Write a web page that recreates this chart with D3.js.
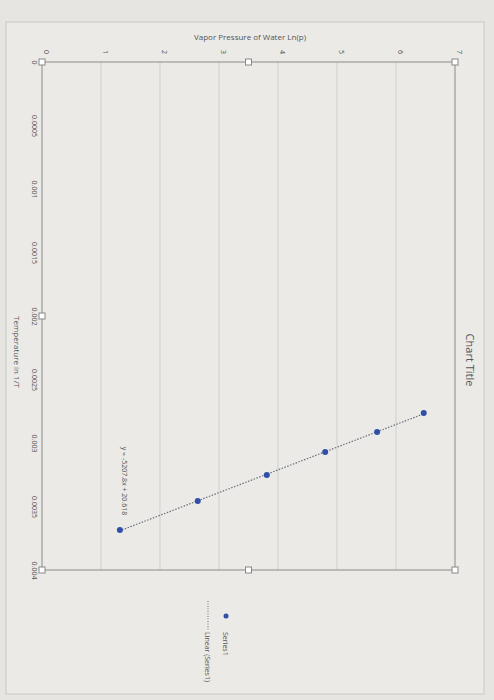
<!DOCTYPE html>
<html><head><meta charset="utf-8">
<script src="https://cdn.jsdelivr.net/npm/d3@7"></script>
<style>body{margin:0;background:#e6e5e1}text{font-family:'Open Sans',Calibri,sans-serif;fill:#555}</style>
</head><body><div id="chart"></div>
<script>
// photo of an Excel chart turned 90deg clockwise: ln(p) runs left->right, 1/T runs top->bottom
var invT = [0.003685, 0.003457, 0.003252, 0.003071, 0.002913, 0.002764];
var lnP = [1.32, 2.64, 3.81, 4.80, 5.68, 6.47];
var lnTicks = [0, 1, 2, 3, 4, 5, 6, 7];
var tTicks = [0, 0.0005, 0.001, 0.0015, 0.002, 0.0025, 0.003, 0.0035, 0.004];

var W = 494, H = 700;
var svg = d3.select('#chart').append('svg').attr('width', W).attr('height', H);
svg.append('rect').attr('width', W).attr('height', H).attr('fill', '#e6e5e1');
svg.append('rect').attr('x', 6).attr('y', 22).attr('width', 478).attr('height', 672)
  .attr('fill', '#ebeae6').attr('stroke', '#c8c8c4');

var x = d3.scaleLinear().domain([0, 7]).range([42, 455]);
var y = d3.scaleLinear().domain([0, 0.004]).range([62, 570]);

// grid lines
svg.append('g').selectAll('line').data(lnTicks.slice(1, -1)).join('line')
  .attr('x1', d => x(d)).attr('x2', d => x(d)).attr('y1', y(0)).attr('y2', y(0.004))
  .attr('stroke', '#cfcfcb');

// plot border
svg.append('rect').attr('x', x(0)).attr('y', y(0)).attr('width', x(7) - x(0)).attr('height', y(0.004) - y(0))
  .attr('fill', 'none').attr('stroke', '#8a8a88');

var ay = svg.append('g').attr('transform', 'translate(0,' + y(0) + ')')
  .call(d3.axisTop(x).tickValues(lnTicks).tickSize(0).tickFormat(d3.format('d')));
ay.select('.domain').remove();
ay.selectAll('text').attr('x', 0).attr('y', 0).attr('dy', '0.35em').attr('font-size', 7)
  .style('text-anchor', 'middle').attr('transform', 'translate(4,-10) rotate(90)');

var ax = svg.append('g').attr('transform', 'translate(' + x(0) + ',0)')
  .call(d3.axisLeft(y).tickValues(tTicks).tickSize(0).tickFormat(d => d === 0 ? '0' : String(+d.toFixed(4))));
ax.select('.domain').remove();
ax.selectAll('text').attr('x', 0).attr('dy', 0).attr('font-size', 7).style('text-anchor', 'middle')
  .attr('transform', 'translate(-10,0) rotate(90)');

// handles
[[x(0), y(0)], [x(3.5), y(0)], [x(7), y(0)], [x(0), y(0.002)], [x(0), y(0.004)], [x(3.5), y(0.004)], [x(7), y(0.004)]]
  .forEach(p => svg.append('rect').attr('x', p[0] - 3).attr('y', p[1] - 3).attr('width', 6).attr('height', 6)
    .attr('fill', '#fff').attr('stroke', '#888'));

// trendline: least squares through the read points
var mx = d3.mean(invT), my = d3.mean(lnP);
var slope = d3.sum(invT, (d, i) => (d - mx) * (lnP[i] - my)) / d3.sum(invT, d => (d - mx) * (d - mx));
var icpt = my - slope * mx;
var tx = d3.extent(invT);
svg.append('line').attr('x1', x(slope * tx[0] + icpt)).attr('y1', y(tx[0]))
  .attr('x2', x(slope * tx[1] + icpt)).attr('y2', y(tx[1]))
  .attr('stroke', '#6a6f80').attr('stroke-width', 1.2).attr('stroke-dasharray', '1.5,1.5');

svg.append('g').selectAll('circle').data(invT).join('circle')
  .attr('cx', (d, i) => x(lnP[i])).attr('cy', d => y(d)).attr('r', 3).attr('fill', '#2f4fa8');

svg.append('text').attr('transform', 'translate(122,481) rotate(90)').attr('text-anchor', 'middle')
  .attr('font-size', 7).text('y = -5207.8x + 20.618');

svg.append('text').attr('x', 250).attr('y', 40).attr('text-anchor', 'middle').attr('font-size', 8)
  .attr('fill', '#444').text('Vapor Pressure  of Water Ln(p)');
svg.append('text').attr('transform', 'translate(14,352) rotate(90)').attr('text-anchor', 'middle')
  .attr('font-size', 8).attr('fill', '#444').text('Temperature in 1/T');
svg.append('text').attr('transform', 'translate(466,360) rotate(90)').attr('text-anchor', 'middle')
  .attr('font-size', 11).attr('fill', '#444').text('Chart Title');

// legend
svg.append('circle').attr('cx', 226).attr('cy', 616).attr('r', 2.5).attr('fill', '#2f4fa8');
svg.append('text').attr('transform', 'translate(223,632) rotate(90)').attr('font-size', 7).text('Series1');
svg.append('line').attr('x1', 208).attr('x2', 208).attr('y1', 601).attr('y2', 630)
  .attr('stroke', '#6a6f80').attr('stroke-dasharray', '1,1.5');
svg.append('text').attr('transform', 'translate(205,632) rotate(90)').attr('font-size', 7).text('Linear (Series1)');
</script></body></html>
